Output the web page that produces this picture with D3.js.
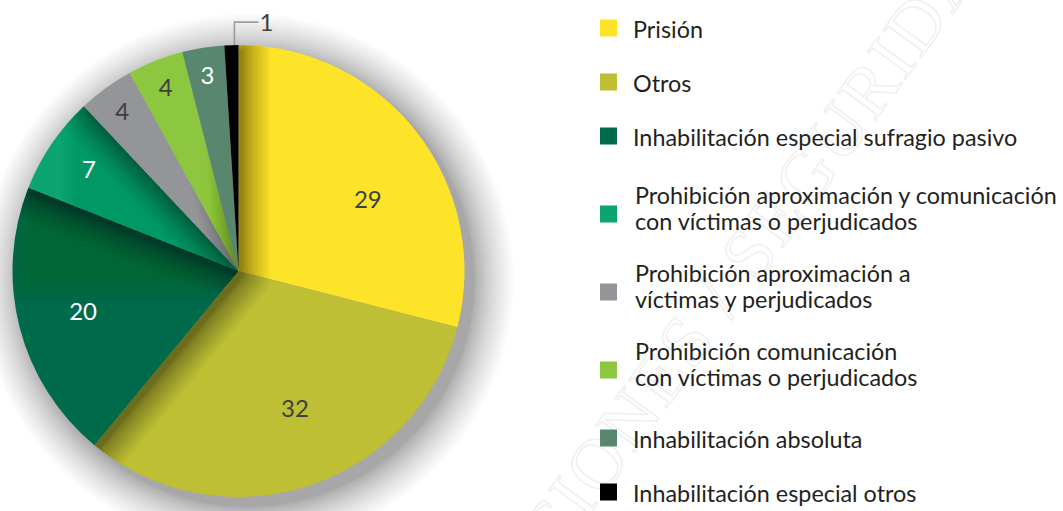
<!DOCTYPE html>
<html lang="es">
<head>
<meta charset="utf-8">
<script src="https://cdn.jsdelivr.net/npm/d3@7"></script>
<style>
  html, body { margin: 0; padding: 0; background: #fff; }
  svg { display: block; }
</style>
</head>
<body>
<svg id="chart" width="1063" height="511"></svg>
<script>
// Penas impuestas (porcentaje), en el orden de la tarta, en sentido horario desde las 12
const categories = [
  "Prisión",
  "Otros",
  "Inhabilitación especial sufragio pasivo",
  "Prohibición aproximación y comunicación con víctimas o perjudicados",
  "Prohibición aproximación a víctimas y perjudicados",
  "Prohibición comunicación con víctimas o perjudicados",
  "Inhabilitación absoluta",
  "Inhabilitación especial otros"
];
const values = [29, 32, 20, 7, 4, 4, 3, 1];
const legendLabels = [
  ["Prisión"],
  ["Otros"],
  ["Inhabilitación especial sufragio pasivo"],
  ["Prohibición aproximación y comunicación", "con víctimas o perjudicados"],
  ["Prohibición aproximación a", "víctimas y perjudicados"],
  ["Prohibición comunicación", "con víctimas o perjudicados"],
  ["Inhabilitación absoluta"],
  ["Inhabilitación especial otros"]
];
const colors = ["#fde428", "#bebf35", "#006b4b", "#0ca471", "#939598", "#8dc63f", "#58866e", "#000000"];
const labelColors = ["#3f3f3f", "#3f3f3f", "#ffffff", "#ffffff", "#3f3f3f", "#3f3f3f", "#ffffff", "#3f3f3f"];

const svg = d3.select("#chart");
const cx = 238.5, cy = 271, R = 226;
const FONT = "Lato, 'Open Sans', sans-serif";

// faint outlined watermark across the legend
svg.append("text")
  .attr("transform", "translate(748,296) rotate(-54)")
  .attr("text-anchor", "middle")
  .attr("font-family", "'Liberation Serif', serif")
  .attr("font-size", 72)
  .attr("letter-spacing", 3)
  .attr("fill", "none")
  .attr("stroke", "#efefef")
  .attr("stroke-width", 1.5)
  .text("EDICIONES / SEGURIDAD");

const defs = svg.append("defs");
const pie = d3.pie().sort(null).value(d => d.value);
const data = categories.map((c, i) => ({ name: c, value: values[i], i }));
const arcs = pie(data);
const arc = d3.arc().innerRadius(0).outerRadius(R);

const g = svg.append("g").attr("transform", `translate(${cx},${cy})`);

// soft shadow built from stacked translucent outlines of growing width
const SH_STEPS = 24;
function softShadow(parent, d, dx, dy, spread, alpha) {
  const sg = parent.append("g").attr("transform", `translate(${dx},${dy})`);
  for (let j = 1; j <= SH_STEPS; j++) {
    const s = spread * Math.pow(j / SH_STEPS, 1.6);
    sg.append("path")
      .attr("d", d)
      .attr("fill", "#000")
      .attr("stroke", "#000")
      .attr("stroke-width", 2 * s)
      .attr("stroke-linejoin", "round")
      .attr("opacity", alpha);
  }
  return sg;
}

const SHX = 4, SHY = 5;

// shadow of the whole disc on the page
const fullDisc = d3.arc().innerRadius(0).outerRadius(R).startAngle(0).endAngle(2 * Math.PI)();
softShadow(g.append("g"), fullDisc, 9, 9, 40, 0.0135);

g.selectAll("path.wedge")
  .data(arcs)
  .join("path")
  .attr("class", "wedge")
  .attr("d", arc)
  .attr("fill", d => colors[d.data.i]);

// each wedge is shaded by the wedges stacked after it; a neighbour whose
// shadow falls away from the wedge is left out of the caster
arcs.forEach((d, k) => {
  if (k >= arcs.length - 1) return;
  const edge = d.endAngle;
  const facing = Math.cos(edge) * SHX + Math.sin(edge) * SHY;
  const from = facing > 0 ? k + 2 : k + 1;
  if (from >= arcs.length) return;
  const clipId = "wclip" + k;
  defs.append("clipPath").attr("id", clipId)
    .append("path").attr("d", arc(d));
  const caster = d3.arc().innerRadius(0).outerRadius(R)
    .startAngle(arcs[from].startAngle).endAngle(2 * Math.PI)();
  const holder = g.append("g").attr("clip-path", `url(#${clipId})`);
  softShadow(holder, caster, SHX, SHY, 28, 0.018);
});

// value labels: large wedges nearer the middle, thin ones near the rim
const labelTurn = { "Prisión": 8.7, "Otros": -4.4 };
function labelPos(d) {
  const v = d.data.value;
  const rr = v >= 20 ? (v === 20 ? 0.71 : 0.655) * R : v >= 7 ? 0.8 * R : 0.875 * R;
  const a = (d.startAngle + d.endAngle) / 2 + ((labelTurn[d.data.name] || 0) * Math.PI / 180);
  return [Math.sin(a) * rr, -Math.cos(a) * rr];
}

const inner = arcs.filter(d => d.data.value > 1);
g.selectAll("text.val")
  .data(inner)
  .join("text")
  .attr("class", "val")
  .attr("x", d => labelPos(d)[0])
  .attr("y", d => labelPos(d)[1])
  .attr("dy", "0.36em")
  .attr("text-anchor", "middle")
  .attr("font-family", FONT)
  .attr("font-size", 24)
  .attr("fill", d => labelColors[d.data.i])
  .text(d => d.data.value);

// the smallest wedge gets an outside label with an elbow leader
const tiny = arcs.filter(d => d.data.value <= 1);
tiny.forEach(d => {
  const a = (d.startAngle + d.endAngle) / 2;
  const x0 = Math.sin(a) * R + 3, y0 = -Math.cos(a) * R;
  const yTop = y0 - 23;
  g.append("path")
    .attr("d", `M${x0},${y0} V${yTop} H${x0 + 24}`)
    .attr("fill", "none")
    .attr("stroke", "#9d9d9d")
    .attr("stroke-width", 1.6);
  g.append("text")
    .attr("x", x0 + 25)
    .attr("y", yTop)
    .attr("dy", "0.36em")
    .attr("font-family", FONT)
    .attr("font-size", 24)
    .attr("fill", labelColors[d.data.i])
    .text(d.data.value);
});

// legend
const legend = svg.append("g");
const sq = 17, sqX = 600, txtX = 633;
let yc = 28;
const rowsY = legendLabels.map((lines, i) => {
  if (i > 0) {
    const prev = legendLabels[i - 1].length, cur = lines.length;
    yc += cur === 2 ? 78 : prev === 2 ? 68 : 54;
  }
  return yc;
});

const items = legend.selectAll("g.item")
  .data(legendLabels)
  .join("g")
  .attr("class", "item")
  .attr("transform", (d, i) => `translate(0,${rowsY[i]})`);

items.append("rect")
  .attr("x", sqX).attr("y", -sq / 2)
  .attr("width", sq).attr("height", sq)
  .attr("fill", (d, i) => colors[i]);

const texts = items.append("text")
  .attr("font-family", FONT)
  .attr("font-size", 21)
  .attr("fill", "#231f20");
texts.each(function(lines) {
  const t = d3.select(this);
  lines.forEach((ln, k) => {
    t.append("tspan")
      .attr("x", lines.length === 2 ? txtX + 2 : txtX)
      .attr("y", lines.length === 2 ? (k === 0 ? -10 : 16) : 9.5)
      .text(ln);
  });
});

// size the legend type so the widest line spans its column
const ref = texts.filter((d, i) => i === 3).select("tspan").node();
const w = ref.getComputedTextLength();
const fs = 21 * 422 / w;
texts.attr("font-size", fs);
</script>
</body>
</html>
